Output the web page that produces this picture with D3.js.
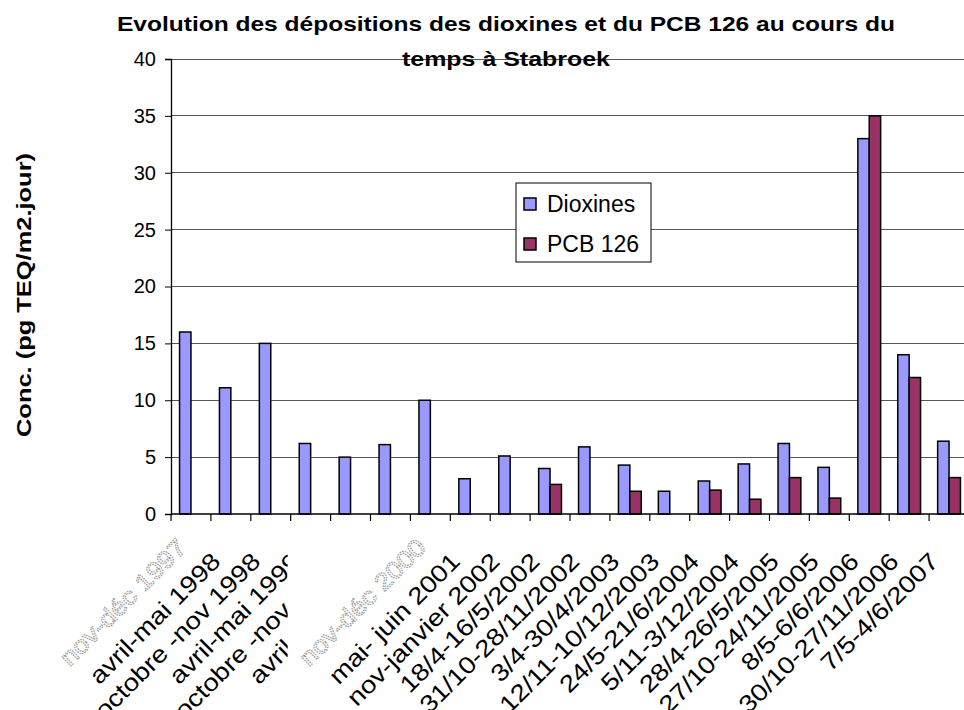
<!DOCTYPE html>
<html>
<head>
<meta charset="utf-8">
<script src="https://cdn.jsdelivr.net/npm/d3@7"></script>
<style>
  html, body { margin: 0; padding: 0; background: #fff; }
  svg { display: block; font-family: "Liberation Sans", Arial, sans-serif; }
</style>
</head>
<body>
<div id="chart"></div>
<script>
// Chart data
const categories = [
  "nov-déc 1997", "avril-mai 1998", "octobre -nov 1998", "avril-mai 1999",
  "octobre -nov 1999", "avril-mai 2000", "nov-déc 2000", "mai- juin 2001",
  "nov-janvier 2002", "18/4-16/5/2002", "31/10-28/11/2002", "3/4-30/4/2003",
  "12/11-10/12/2003", "24/5-21/6/2004", "5/11-3/12/2004", "28/4-26/5/2005",
  "27/10-24/11/2005", "8/5-6/6/2006", "30/10-27/11/2006", "7/5-4/6/2007"
];
const dioxines = [16, 11.1, 15, 6.2, 5, 6.1, 10, 3.1, 5.1, 4, 5.9, 4.3, 2, 2.9, 4.4, 6.2, 4.1, 33, 14, 6.4];
const pcb126 = [null, null, null, null, null, null, null, null, null, 2.6, null, 2, null, 2.1, 1.3, 3.2, 1.4, 35, 12, 3.2];
const seriesNames = ["Dioxines", "PCB 126"];
const seriesColors = ["#9999FF", "#993366"];
const yTicks = [0, 5, 10, 15, 20, 25, 30, 35, 40];
const ghostLabels = [0, 6]; // labels that appear faded in the original

const width = 964, height = 710;
const plotLeft = 171, plotRight = 969, plotTop = 59, plotBottom = 514;

const svg = d3.select("#chart").append("svg")
  .attr("width", width)
  .attr("height", height);

const x0 = d3.scaleBand().domain(categories).range([plotLeft, plotRight]);
const x1 = d3.scaleBand().domain(seriesNames).range([0, x0.step()]).paddingOuter(0.75);
const y = d3.scaleLinear().domain([0, 40]).range([plotBottom, plotTop]);

// gridlines
svg.append("g")
  .selectAll("line")
  .data(yTicks.filter(d => d > 0))
  .enter().append("line")
  .attr("x1", plotLeft).attr("x2", width)
  .attr("y1", d => y(d)).attr("y2", d => y(d))
  .attr("stroke", "#555")
  .attr("stroke-width", 1)
  .attr("shape-rendering", "crispEdges");

// y axis
const yAxis = svg.append("g")
  .attr("transform", `translate(${plotLeft},0)`)
  .call(d3.axisLeft(y).tickValues(yTicks).tickSize(6).tickPadding(9));
yAxis.select(".domain").attr("stroke", "#000").attr("stroke-width", 1.3);
yAxis.selectAll(".tick line").attr("stroke", "#000");
yAxis.selectAll("text")
  .attr("font-size", 20)
  .attr("font-family", "Liberation Sans, Arial, sans-serif")
  .attr("fill", "#000");

// bars
const rows = categories.map((c, i) => ({ cat: c, values: [dioxines[i], pcb126[i]] }));
svg.append("g")
  .selectAll("g")
  .data(rows)
  .enter().append("g")
  .attr("transform", d => `translate(${x0(d.cat)},0)`)
  .selectAll("rect")
  .data(d => d.values.map((v, k) => ({ key: seriesNames[k], k, v })).filter(d => d.v != null))
  .enter().append("rect")
  .attr("x", d => x1(d.key))
  .attr("width", x1.bandwidth())
  .attr("y", d => y(d.v))
  .attr("height", d => y(0) - y(d.v))
  .attr("fill", d => seriesColors[d.k])
  .attr("stroke", "#000")
  .attr("stroke-width", 1.5);

// x axis line and ticks
svg.append("line")
  .attr("x1", plotLeft).attr("x2", width)
  .attr("y1", plotBottom).attr("y2", plotBottom)
  .attr("stroke", "#000")
  .attr("stroke-width", 1.3);
svg.append("g")
  .selectAll("line")
  .data(categories)
  .enter().append("line")
  .attr("x1", d => x0(d)).attr("x2", d => x0(d))
  .attr("y1", plotBottom).attr("y2", plotBottom + 7)
  .attr("stroke", "#000")
  .attr("stroke-width", 1.2);

// category labels, drawn in order so the faded label box hides its neighbours
const labels = svg.append("g");
categories.forEach((c, i) => {
  const cx = x0(c) + x0.bandwidth() / 2;
  const ghost = ghostLabels.includes(i);
  if (ghost && i === 6) {
    labels.append("rect")
      .attr("x", x0(categories[3]) - 3)
      .attr("y", plotBottom + 8)
      .attr("width", x0(c) + x0.bandwidth() - x0(categories[3]) + 3)
      .attr("height", height - plotBottom - 8)
      .attr("fill", "#fff");
  }
  const t = labels.append("text")
    .attr("text-anchor", "end")
    .attr("font-size", 24)
    .text(c);
  if (ghost) {
    t.attr("transform", `translate(${cx - 3},549) rotate(-45) scale(1.15,1)`)
      .attr("fill", "#fff")
      .attr("stroke", "#999")
      .attr("stroke-width", 1.1)
      .attr("stroke-dasharray", "1.5,1");
  } else {
    t.attr("transform", `translate(${cx - 9},563) rotate(-45) scale(1.15,1)`)
      .attr("fill", "#000");
  }
});

// title
svg.append("text")
  .attr("x", 117).attr("y", 31)
  .attr("font-size", 21)
  .attr("font-weight", "bold")
  .attr("textLength", 778)
  .attr("lengthAdjust", "spacingAndGlyphs")
  .text("Evolution des dépositions des dioxines et du PCB 126 au cours du");
svg.append("text")
  .attr("x", 402).attr("y", 66)
  .attr("font-size", 21)
  .attr("font-weight", "bold")
  .attr("textLength", 208)
  .attr("lengthAdjust", "spacingAndGlyphs")
  .text("temps à Stabroek");

// y axis title
svg.append("text")
  .attr("transform", "translate(31,295) rotate(-90)")
  .attr("text-anchor", "middle")
  .attr("font-size", 21)
  .attr("font-weight", "bold")
  .attr("textLength", 284)
  .attr("lengthAdjust", "spacingAndGlyphs")
  .text("Conc.  (pg TEQ/m2.jour)");

// legend
const legend = svg.append("g").attr("transform", "translate(516,183)");
legend.append("rect")
  .attr("width", 135).attr("height", 79)
  .attr("fill", "#fff")
  .attr("stroke", "#000")
  .attr("stroke-width", 1);
seriesNames.forEach((name, k) => {
  legend.append("rect")
    .attr("x", 8).attr("y", 15 + k * 40)
    .attr("width", 12).attr("height", 12)
    .attr("fill", seriesColors[k])
    .attr("stroke", "#000")
    .attr("stroke-width", 1.5);
  legend.append("text")
    .attr("x", 31).attr("y", 29 + k * 40)
    .attr("font-size", 23)
    .text(name);
});
</script>
</body>
</html>
